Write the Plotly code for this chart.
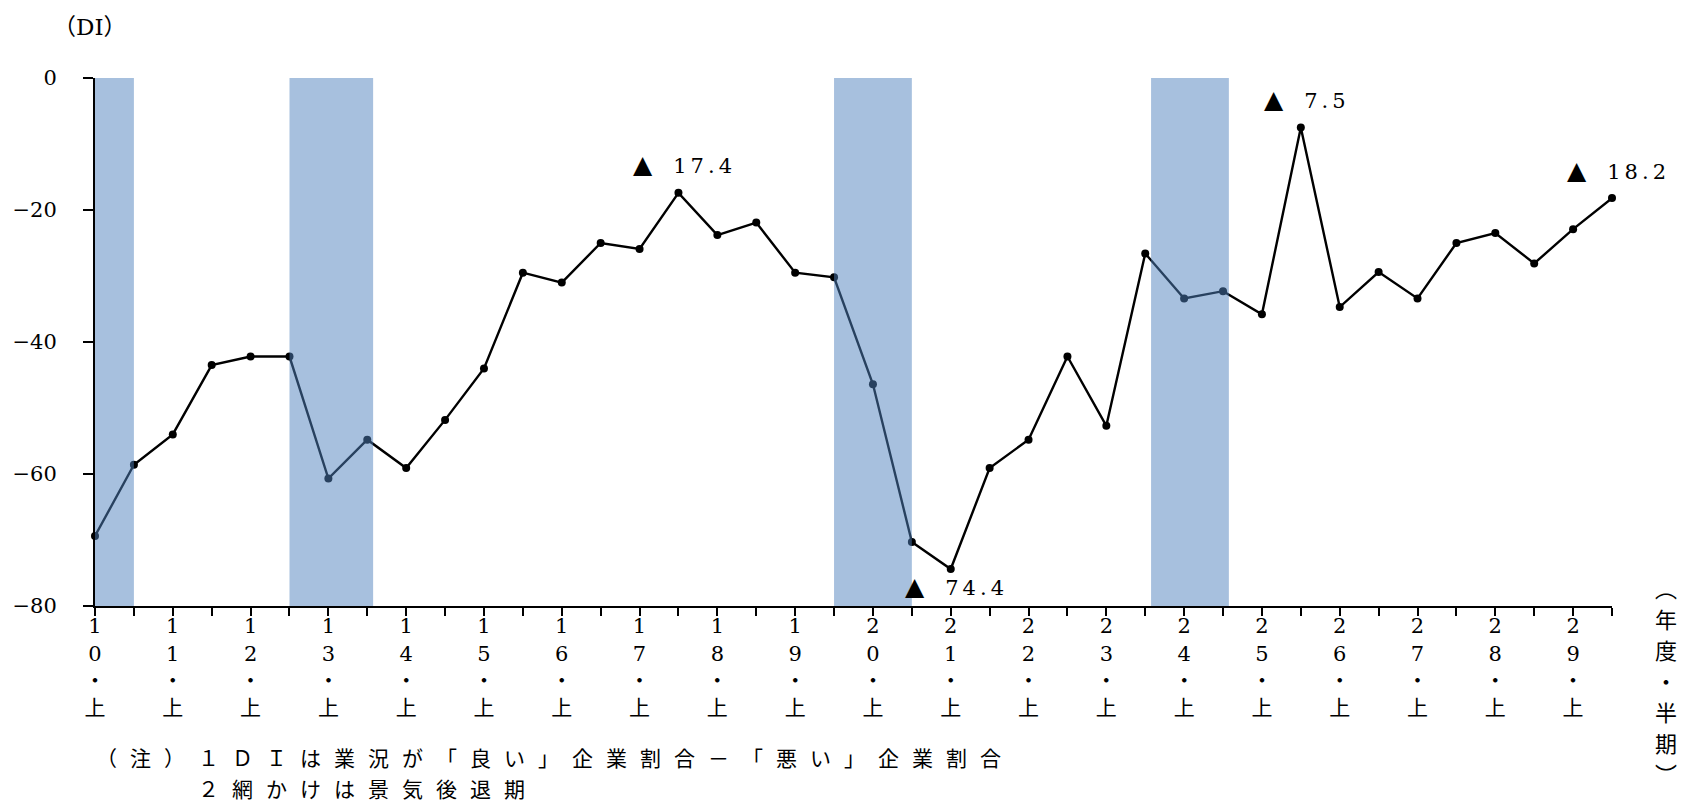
import plotly.graph_objects as go

# Half-year periods (fiscal years 10-29, first/second half)
years = list(range(10, 30))
halves = ["上", "下"]

# Business conditions DI, one value per half-year
di_values = [
    -69.4, -58.6, -54.0, -43.5, -42.2, -42.2, -60.7, -54.8, -59.1, -51.8,
    -44.0, -29.5, -31.0, -25.0, -25.9, -17.4, -23.8, -21.9, -29.5, -30.2,
    -46.4, -70.3, -74.4, -59.1, -54.8, -42.2, -52.7, -26.6, -33.4, -32.3,
    -35.8, -7.5, -34.7, -29.4, -33.4, -25.0, -23.5, -28.1, -22.9, -18.2,
]

# Recession periods (start / end, in half-year positions)
recession_start = [0, 5, 19, 27.15]
recession_end = [1, 7.15, 21, 29.15]

# Points whose values are written on the chart, and where the label sits
labelled_points = [15, 22, 31, 39]
label_below = [False, True, False, False]

y_ticks = [-80, -60, -40, -20, 0]

x_unit_chars = ["︵", "年", "度", "・", "半", "期", "︶"]
note_lines = [
    "（注）１ＤＩは業況が「良い」企業割合－「悪い」企業割合",
    "２網かけは景気後退期",
]

# ---------------------------------------------------------------------------
W, H = 1682, 805
L, R, T, B = 93, 70, 78, 199
NUM = "DejaVu Serif, Noto Sans CJK JP, serif"
CJK = "Noto Sans CJK JP, sans-serif"

positions = list(range(len(di_values)))
tick_text = []
for i in positions:
    y = years[i // 2]
    if i % 2 == 0:
        d = str(y)
        tick_text.append(f"{d[0]}<br>{d[1]}<br>・<br>{halves[0]}")
    else:
        tick_text.append("")


def px_x(px):
    return (px - L) / (W - L - R)


def px_y(py):
    return (H - B - py) / (H - T - B)


fig = go.Figure()

fig.add_trace(go.Scatter(
    x=positions,
    y=di_values,
    mode="lines+markers",
    line=dict(color="black", width=2.4),
    marker=dict(color="black", size=8),
    cliponaxis=False,
    hoverinfo="skip",
))

shapes = []
for s, e in zip(recession_start, recession_end):
    shapes.append(dict(
        type="rect", xref="x", yref="y",
        x0=s, x1=e, y0=-80, y1=0,
        fillcolor="rgba(79,129,189,0.5)",
        line=dict(width=0),
        layer="above",
    ))

annotations = []
for idx, below in zip(labelled_points, label_below):
    v = di_values[idx]
    mark = "<span style='font-size:25px'>▲</span>\u2003" if v < 0 else ""
    annotations.append(dict(
        x=idx, y=v, xref="x", yref="y",
        text=f"{mark}<span style='letter-spacing:4px'>{abs(v):.1f}</span>",
        showarrow=False,
        xanchor="center", yanchor="middle",
        xshift=6,
        yshift=-17 if below else 28,
        font=dict(family=NUM, size=21, color="black"),
    ))

# axis unit label
annotations.append(dict(
    x=px_x(88), y=px_y(27), xref="paper", yref="paper",
    xanchor="center", yanchor="middle",
    text="（DI）", showarrow=False,
    font=dict(family=NUM, size=23, color="black"),
))

# x-axis unit, written vertically one character per row
for k, ch in enumerate(x_unit_chars):
    annotations.append(dict(
        x=px_x(1666), y=px_y(680 + (k - 3) * 31), xref="paper", yref="paper",
        xanchor="center", yanchor="middle",
        text=ch, showarrow=False,
        font=dict(family=CJK, size=22, color="black"),
    ))

# notes
note_x = [92, 92 + 3 * 34]
note_y = [757, 788]
for text, nx, ny in zip(note_lines, note_x, note_y):
    annotations.append(dict(
        x=px_x(nx), y=px_y(ny), xref="paper", yref="paper",
        xanchor="left", yanchor="middle",
        text=f"<span style='letter-spacing:13px'>{text}</span>",
        showarrow=False,
        font=dict(family=CJK, size=21, color="black"),
    ))

fig.update_layout(
    width=W, height=H,
    margin=dict(l=L, r=R, t=T, b=B, pad=0),
    paper_bgcolor="white",
    plot_bgcolor="white",
    showlegend=False,
    shapes=shapes,
    annotations=annotations,
    xaxis=dict(
        range=[0, len(di_values) - 1],
        tickmode="array",
        tickvals=positions,
        ticktext=tick_text,
        ticks="outside", ticklen=8, tickwidth=2, tickcolor="black",
        ticklabelstandoff=-8,
        showline=True, linecolor="black", linewidth=2,
        showgrid=False, zeroline=False,
        tickfont=dict(family=NUM, size=21, color="black"),
        tickangle=0,
    ),
    yaxis=dict(
        range=[-80, 0],
        tickmode="array",
        tickvals=y_ticks,
        ticktext=[f"{t}" if t >= 0 else f"−{abs(t)}" for t in y_ticks],
        ticks="outside", ticklen=10, tickwidth=2, tickcolor="black",
        ticklabelstandoff=22,
        showline=True, linecolor="black", linewidth=2,
        showgrid=False, zeroline=False,
        tickfont=dict(family=NUM, size=21, color="black"),
    ),
)

fig.write_html("out.html")
